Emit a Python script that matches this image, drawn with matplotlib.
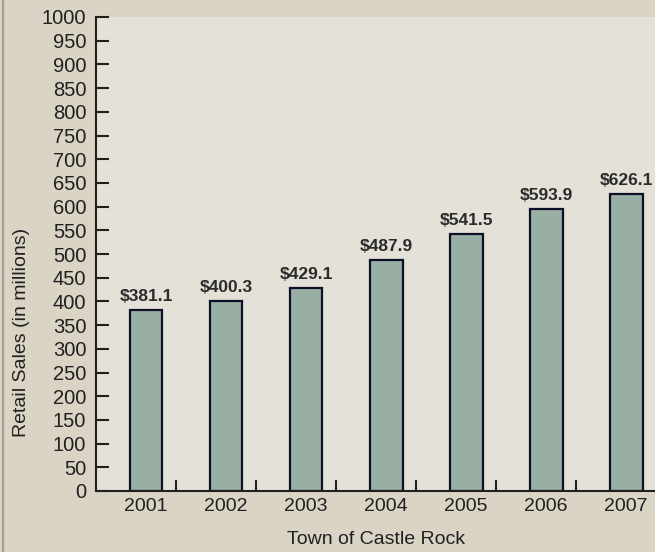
"""Retail sales bar chart for the Town of Castle Rock, 2001-2007."""
import matplotlib

matplotlib.use("Agg")
import matplotlib.pyplot as plt  # noqa: E402
from matplotlib.lines import Line2D  # noqa: E402
from matplotlib.ticker import FixedLocator, MultipleLocator  # noqa: E402

years = ["2001", "2002", "2003", "2004", "2005", "2006", "2007"]
sales = [381.1, 400.3, 429.1, 487.9, 541.5, 593.9, 626.1]
value_labels = ["$381.1", "$400.3", "$429.1", "$487.9", "$541.5", "$593.9", "$626.1"]

FIG_BG = "#d9d4c4"
AX_BG = "#e4e1d8"
BAR = "#9aafa4"
EDGE = "#0d0f26"
INK = "#231f20"

plt.rcParams["font.family"] = ["Liberation Sans", "DejaVu Sans"]

fig = plt.figure(figsize=(6.55, 5.52), dpi=100, facecolor=FIG_BG)
ax = fig.add_axes([96 / 655, 61 / 552, 1 - 96 / 655, 474 / 552])
ax.set_facecolor(AX_BG)

x = list(range(len(years)))
ax.bar(x, sales, width=0.41, color=BAR, edgecolor=EDGE, linewidth=1.6, zorder=2)
for xi, v, lab in zip(x, sales, value_labels):
    ax.annotate(lab, (xi, v), xytext=(0, 6.5), textcoords="offset points",
                ha="center", va="baseline", fontsize=12.5, fontweight="bold",
                color="#2b2b2b")

ax.set_xlim(-0.625, 6.36)
ax.set_ylim(0, 1000)
ax.yaxis.set_major_locator(MultipleLocator(50))
ax.set_xticks(x)
ax.set_xticklabels(years)
ax.xaxis.set_minor_locator(FixedLocator([i + 0.375 for i in range(6)]))

ax.tick_params(axis="y", direction="in", length=9, width=1.5, color=INK,
               labelsize=14.5, labelcolor=INK, pad=7)
ax.tick_params(axis="x", which="major", length=0, labelsize=14,
               labelcolor=INK, pad=5)
ax.tick_params(axis="x", which="minor", direction="in", length=8, width=1.5,
               color=INK)

for side in ("top", "right"):
    ax.spines[side].set_visible(False)
for side in ("left", "bottom"):
    ax.spines[side].set_linewidth(1.5)
    ax.spines[side].set_color(INK)

fig.text(376 / 655, 1 - 540 / 552, "Town of Castle Rock", ha="center",
         va="center", fontsize=14, color=INK)
fig.text(22 / 655, 1 - 332 / 552, "Retail Sales (in millions)", ha="center",
         va="center", rotation=90, fontsize=14, color=INK)

# thin frame line down the left edge
fig.add_artist(Line2D([2.5 / 655, 2.5 / 655], [0, 1], transform=fig.transFigure,
                      color="#a69d8e", linewidth=1.6))

fig.savefig("out.png", dpi=100, facecolor=FIG_BG)
